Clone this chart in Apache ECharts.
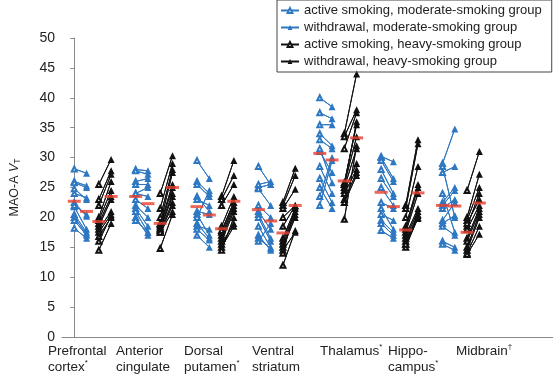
<!DOCTYPE html>
<html style="height: 100%">
<head>
<meta charset="utf-8">
<title>MAO-A VT</title>
<script src="https://cdn.jsdelivr.net/npm/echarts@6/dist/echarts.min.js"></script>
</head>
<body style="height: 100%; margin: 0; background: #fff">
<div id="main" style="width: 553px; height: 375px"></div>
<script type="text/javascript">
// region labels (lines) and their superscript marks
var regionLines = [['Prefrontal', 'cortex'], ['Anterior', 'cingulate'], ['Dorsal', 'putamen'],
  ['Ventral', 'striatum'], ['Thalamus'], ['Hippo-', 'campus'], ['Midbrain']];
var regionMarks = ['*', '', '*', '', '*', '*', '\u2020'];

var legendNames = ['active smoking, moderate-smoking group', 'withdrawal, moderate-smoking group',
  'active smoking, heavy-smoking group', 'withdrawal, heavy-smoking group'];

// one row per region, one value per subject (paired by position)
var modActive = [
  [28.1, 26.0, 25.8, 24.0, 22.5, 21.8, 20.5, 20.0, 19.5, 18.2, 24.8, 22.0],
  [28.0, 27.8, 26.0, 25.5, 24.0, 23.0, 22.0, 21.5, 21.0, 20.0, 19.5, 24.0],
  [29.5, 26.0, 25.5, 23.5, 21.0, 20.5, 19.0, 18.5, 18.0, 17.0, 20.0, 23.0],
  [28.5, 25.0, 24.8, 22.0, 21.0, 20.5, 20.0, 18.5, 17.0, 16.5, 16.0, 25.5],
  [40.0, 37.5, 35.5, 34.0, 33.0, 31.0, 31.5, 28.5, 26.5, 25.0, 23.5, 22.0],
  [30.2, 30.0, 29.5, 28.0, 26.5, 25.0, 22.5, 20.5, 21.5, 19.5, 19.0, 17.8],
  [29.0, 27.5, 22.5, 22.0, 21.5, 19.5, 19.0, 18.5, 16.0, 15.5, 28.5, 24.0]
];
var modWithdrawal = [
  [27.4, 25.3, 25.0, 23.3, 20.2, 18.0, 17.5, 17.2, 17.0, 16.5, 23.0, 20.5],
  [27.8, 27.2, 26.5, 25.5, 23.5, 21.5, 20.0, 18.5, 17.5, 17.0, 17.5, 25.0],
  [26.5, 24.0, 23.5, 21.0, 20.5, 17.0, 16.5, 18.0, 16.2, 15.0, 24.5, 22.0],
  [25.5, 25.5, 22.0, 20.0, 18.0, 16.5, 16.0, 15.0, 14.5, 14.8, 19.0, 26.0],
  [38.5, 36.5, 35.5, 32.0, 31.5, 27.5, 25.8, 24.0, 22.5, 21.5, 30.0, 29.5],
  [29.3, 26.5, 26.0, 24.0, 23.5, 22.0, 21.5, 19.5, 18.0, 17.5, 17.0, 16.5],
  [34.8, 28.5, 25.0, 24.5, 23.0, 22.5, 20.3, 17.0, 15.0, 14.5, 20.0, 17.5]
];
var heavyActive = [
  [25.5, 23.0, 22.0, 20.0, 19.5, 19.0, 18.5, 18.0, 17.5, 16.8, 16.0, 14.5],
  [24.0, 21.5, 20.0, 19.0, 18.8, 18.5, 18.2, 18.0, 17.8, 17.5, 17.5, 14.8],
  [23.5, 23.0, 22.0, 18.5, 17.5, 17.0, 16.5, 16.0, 15.5, 15.0, 14.5, 17.8],
  [22.5, 22.0, 21.5, 20.0, 18.5, 16.5, 16.0, 15.5, 15.0, 14.5, 14.0, 12.0],
  [34.0, 33.5, 31.5, 25.5, 25.8, 25.5, 25.0, 24.5, 24.0, 23.0, 22.5, 19.7],
  [22.0, 21.5, 20.0, 18.5, 18.0, 17.5, 17.0, 16.5, 16.0, 15.5, 15.0, 15.5],
  [24.5, 20.0, 19.5, 18.5, 19.0, 18.0, 16.5, 16.0, 15.0, 14.5, 14.0, 13.8]
];
var heavyWithdrawal = [
  [29.7, 27.8, 27.2, 26.0, 24.5, 23.5, 23.0, 21.0, 20.5, 20.0, 20.2, 19.0],
  [30.3, 29.0, 28.0, 27.5, 25.5, 25.0, 24.0, 23.5, 22.5, 22.0, 21.0, 20.5],
  [29.5, 27.0, 25.5, 23.5, 22.5, 22.0, 21.5, 21.0, 19.0, 18.5, 20.0, 22.5],
  [28.2, 27.0, 24.7, 22.0, 22.0, 21.5, 21.0, 20.5, 20.0, 17.5, 21.8, 17.8],
  [44.0, 38.0, 37.5, 36.0, 35.5, 33.5, 31.5, 29.0, 28.0, 27.5, 27.0, 32.0],
  [33.0, 32.3, 28.5, 25.5, 25.0, 24.0, 21.5, 21.0, 20.5, 20.3, 20.0, 19.8],
  [31.0, 27.2, 25.0, 24.0, 23.0, 22.0, 21.5, 21.0, 20.5, 20.0, 18.5, 17.2]
];

// group means (red bars), one per region
var meanModActive = [22.7, 23.5, 21.8, 21.3, 30.7, 24.2, 22.0];
var meanModWithdrawal = [21.0, 22.3, 20.4, 19.4, 29.6, 21.8, 21.9];
var meanHeavyActive = [19.3, 19.0, 18.1, 17.4, 26.1, 17.9, 17.5];
var meanHeavyWithdrawal = [23.5, 25.0, 22.7, 22.0, 33.3, 24.1, 22.4];

var blue = '#2e78c2';
var black = '#111111';
var step = 5; // x units per region, columns at offsets 0..3

function pairData(act, wd, offA, offW, markActive) {
  var data = [];
  act.forEach(function (vals, r) {
    vals.forEach(function (a, s) {
      var pa = [r * step + offA, a];
      var pw = [r * step + offW, wd[r][s]];
      data.push(markActive ? pa : { value: pa, symbol: 'none' });
      data.push(markActive ? { value: pw, symbol: 'none' } : pw);
      data.push(['-', '-']);
    });
  });
  return data;
}

function lineSeries(name, data, color, symbol, size, filled) {
  return {
    name: name, type: 'line', data: data, xAxisIndex: 0, yAxisIndex: 0,
    symbol: symbol, symbolSize: size, showSymbol: true, connectNulls: false,
    lineStyle: { color: color, width: 1 },
    itemStyle: filled ? { color: color } : { color: color, borderColor: color, borderWidth: 1 },
    emphasis: { disabled: true }
  };
}

function meanData(means, off) {
  return means.map(function (v, r) { return [r * step + off, v]; });
}

var series = [
  lineSeries(legendNames[0], pairData(modActive, modWithdrawal, 0, 1, true), blue, 'emptyTriangle', 5, false),
  lineSeries(legendNames[1], pairData(modActive, modWithdrawal, 0, 1, false), blue, 'triangle', 7, true),
  lineSeries(legendNames[2], pairData(heavyActive, heavyWithdrawal, 2, 3, true), black, 'emptyTriangle', 5, false),
  lineSeries(legendNames[3], pairData(heavyActive, heavyWithdrawal, 2, 3, false), black, 'triangle', 7, true),
  {
    name: 'means', type: 'scatter', z: 10, symbol: 'rect', symbolSize: [13, 3],
    itemStyle: { color: '#e8402e' },
    data: [].concat(meanData(meanModActive, 0), meanData(meanModWithdrawal, 1),
      meanData(meanHeavyActive, 2), meanData(meanHeavyWithdrawal, 3))
  }
];

var myChart = echarts.init(document.getElementById('main'));
var option = {
  animation: false,
  backgroundColor: '#ffffff',
  textStyle: { fontFamily: 'Liberation Sans, Arial, sans-serif' },
  legend: {
    data: legendNames,
    orient: 'vertical',
    left: 277, top: 0,
    padding: [4, 10, 4, 3],
    itemGap: 4, itemWidth: 18, itemHeight: 6,
    borderColor: '#444', borderWidth: 1,
    textStyle: { fontSize: 13, color: '#222' },
    selectedMode: false
  },
  grid: [
    { left: 47.6, right: 0, top: 38, bottom: 38 },
    { left: 14, width: 476, top: 38, bottom: 38 }
  ],
  xAxis: [
    {
      type: 'value', gridIndex: 0, min: -1, max: 39,
      axisLine: { lineStyle: { color: '#8a8a8a' } },
      axisTick: { show: false }, axisLabel: { show: false }, splitLine: { show: false }
    },
    {
      type: 'category', gridIndex: 1,
      data: regionLines.map(function (l) { return l.join(' '); }),
      axisLine: { show: false }, axisTick: { show: false }, splitLine: { show: false },
      axisLabel: {
        interval: 0, align: 'left', margin: 7, fontSize: 13.5, lineHeight: 16, color: '#222',
        formatter: function (v, i) {
          var m = regionMarks[i];
          return regionLines[i].join('\n') + (m ? '{s|' + m + '}' : '');
        },
        rich: { s: { fontSize: 8, lineHeight: 9, verticalAlign: 'top', color: '#222' } }
      }
    }
  ],
  yAxis: [
    {
      type: 'value', gridIndex: 0, min: 0, max: 50, interval: 5,
      name: '{a|MAO-A }{v|V}{t|T}', nameLocation: 'middle', nameGap: 40,
      nameTextStyle: {
        rich: {
          a: { fontSize: 12.5, color: '#222', lineHeight: 14, verticalAlign: 'top' },
          v: { fontSize: 12.5, color: '#222', fontStyle: 'italic', lineHeight: 14, verticalAlign: 'top' },
          t: { fontSize: 8.5, color: '#222', lineHeight: 10, verticalAlign: 'bottom' }
        }
      },
      axisLine: { show: true, lineStyle: { color: '#8a8a8a' } },
      axisTick: { show: true, length: 4, lineStyle: { color: '#8a8a8a' } },
      axisLabel: { fontSize: 14, color: '#222', margin: 7 },
      splitLine: { show: false }
    },
    { type: 'value', gridIndex: 1, show: false, min: 0, max: 50 }
  ],
  series: series
};
myChart.setOption(option);
</script>
</body>
</html>
